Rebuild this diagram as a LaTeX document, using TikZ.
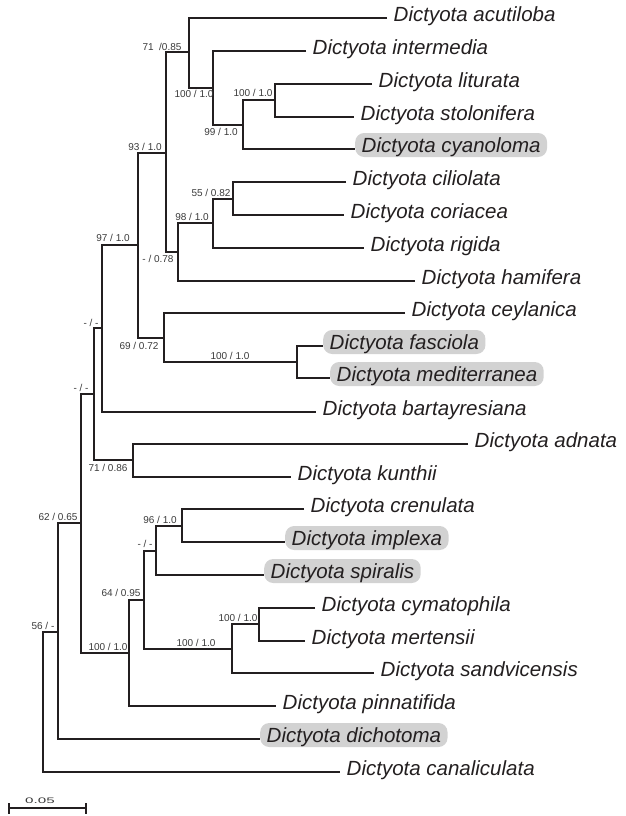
\documentclass[tikz,border=0pt]{standalone}
\usepackage{fontspec}
\setmainfont{Liberation Sans}
\definecolor{ink}{HTML}{231F20}
\definecolor{lab}{HTML}{3A3A3A}
\definecolor{hl}{HTML}{D2D2D2}
\begin{document}
\begin{tikzpicture}[x=1pt,y=-1pt,
  tree/.style={draw=ink, line width=1.4pt},
  sp/.style={anchor=west, inner xsep=6.5pt, inner ysep=4.5pt, text height=15pt, text depth=0pt,
             font=\fontsize{20.5}{24}\selectfont\itshape, text=ink},
  hi/.style={sp, fill=hl, rounded corners=9pt},
  bsup/.style={font=\fontsize{10}{11}\selectfont, text=lab, inner sep=0pt, text height=7pt, text depth=0pt},
]
\useasboundingbox (0,0) rectangle (625,816);

% ---------- leaves (node centre 4px above the branch line) ----------
\node[sp] (acu) at (387,14)  {Dictyota acutiloba};
\node[sp] (int) at (306,47)  {Dictyota intermedia};
\node[sp] (lit) at (372,80)  {Dictyota liturata};
\node[sp] (sto) at (354,113) {Dictyota stolonifera};
\node[hi] (cya) at (355,145) {Dictyota cyanoloma};
\node[sp] (cil) at (346,178) {Dictyota ciliolata};
\node[sp] (cor) at (344,211) {Dictyota coriacea};
\node[sp] (rig) at (364,244) {Dictyota rigida};
\node[sp] (ham) at (415,277) {Dictyota hamifera};
\node[sp] (cey) at (405,309) {Dictyota ceylanica};
\node[hi] (fas) at (323,342) {Dictyota fasciola};
\node[hi] (med) at (330,374) {Dictyota mediterranea};
\node[sp] (bar) at (316,408) {Dictyota bartayresiana};
\node[sp] (adn) at (468,440) {Dictyota adnata};
\node[sp] (kun) at (291,473) {Dictyota kunthii};
\node[sp] (cre) at (304,505) {Dictyota crenulata};
\node[hi] (imp) at (285,538) {Dictyota implexa};
\node[hi] (spi) at (264,571) {Dictyota spiralis};
\node[sp] (cym) at (315,604) {Dictyota cymatophila};
\node[sp] (mer) at (305,637) {Dictyota mertensii};
\node[sp] (san) at (374,669) {Dictyota sandvicensis};
\node[sp] (pin) at (276,702) {Dictyota pinnatifida};
\node[hi] (dic) at (260,735) {Dictyota dichotoma};
\node[sp] (can) at (340,768) {Dictyota canaliculata};

% ---------- internal nodes (vertical x, branch y) ----------
\coordinate (n1)  at (275,100);
\coordinate (n2)  at (243,125);
\coordinate (n3)  at (213,88);
\coordinate (n4)  at (189,52);
\coordinate (n5)  at (233,199);
\coordinate (n6)  at (213,223);
\coordinate (n7)  at (178,252);
\coordinate (n8)  at (166,153);
\coordinate (n9)  at (297,362);
\coordinate (n10) at (164,338);
\coordinate (n11) at (138,245);
\coordinate (n12) at (102,328);
\coordinate (n13) at (133,460);
\coordinate (n14) at (94,394);
\coordinate (n15) at (182,526);
\coordinate (n16) at (156,551);
\coordinate (n17) at (259,624);
\coordinate (n18) at (232,649);
\coordinate (n19) at (144,600);
\coordinate (n20) at (129,653);
\coordinate (n21) at (81,523);
\coordinate (n22) at (58,632);
\coordinate (root) at (43,700);

% ---------- branches ----------
\draw[tree] ([yshift=-4pt]lit.west) -| (n1) |- ([yshift=-4pt]sto.west);
\draw[tree] (n1) -| (n2) |- ([yshift=-4pt]cya.west);
\draw[tree] ([yshift=-4pt]int.west) -| (n3) |- (n2);
\draw[tree] ([yshift=-4pt]acu.west) -| (n4) |- (n3);
\draw[tree] ([yshift=-4pt]cil.west) -| (n5) |- ([yshift=-4pt]cor.west);
\draw[tree] (n5) -| (n6) |- ([yshift=-4pt]rig.west);
\draw[tree] (n6) -| (n7) |- ([yshift=-4pt]ham.west);
\draw[tree] (n4) -| (n8) |- (n7);
\draw[tree] ([yshift=-4pt]fas.west) -| (n9) |- ([yshift=-4pt]med.west);
\draw[tree] ([yshift=-4pt]cey.west) -| (n10) |- (n9);
\draw[tree] (n8) -| (n11) |- (n10);
\draw[tree] (n11) -| (n12) |- ([yshift=-4pt]bar.west);
\draw[tree] ([yshift=-4pt]adn.west) -| (n13) |- ([yshift=-4pt]kun.west);
\draw[tree] (n12) -| (n14) |- (n13);
\draw[tree] ([yshift=-4pt]cre.west) -| (n15) |- ([yshift=-4pt]imp.west);
\draw[tree] (n15) -| (n16) |- ([yshift=-4pt]spi.west);
\draw[tree] ([yshift=-4pt]cym.west) -| (n17) |- ([yshift=-4pt]mer.west);
\draw[tree] (n17) -| (n18) |- ([yshift=-4pt]san.west);
\draw[tree] (n16) -| (n19) |- (n18);
\draw[tree] (n19) -| (n20) |- ([yshift=-4pt]pin.west);
\draw[tree] (n14) -| (n21) |- (n20);
\draw[tree] (n21) -| (n22) |- ([yshift=-4pt]dic.west);
\draw[tree] (n22) -| (root) |- ([yshift=-4pt]can.west);

% ---------- support values ----------
\node[bsup] (s4)  at (162,47)  {71 \ /0.85};
\node[bsup] (s3)  at (194,94)  {100 / 1.0};
\node[bsup] (s2)  at (221,132) {99 / 1.0};
\node[bsup] (s1)  at (253,93)  {100 / 1.0};
\node[bsup] (s5)  at (211,193) {55 / 0.82};
\node[bsup] (s6)  at (192,217) {98 / 1.0};
\node[bsup] (s7)  at (158,259) {- / 0.78};
\node[bsup] (s8)  at (145,147) {93 / 1.0};
\node[bsup] (s11) at (113,238) {97 / 1.0};
\node[bsup] (s10) at (139,346) {69 / 0.72};
\node[bsup] (s9)  at (230,356) {100 / 1.0};
\node[bsup] (s12) at (91,323)  {- / -};
\node[bsup] (s14) at (81,388)  {- / -};
\node[bsup] (s13) at (108,468) {71 / 0.86};
\node[bsup] (s21) at (58,517)  {62 / 0.65};
\node[bsup] (s15) at (160,520) {96 / 1.0};
\node[bsup] (s16) at (145,544) {- / -};
\node[bsup] (s19) at (121,593) {64 / 0.95};
\node[bsup] (s18) at (196,643) {100 / 1.0};
\node[bsup] (s17) at (238,618) {100 / 1.0};
\node[bsup] (s20) at (108,647) {100 / 1.0};
\node[bsup] (s22) at (43,626)  {56 / -};

% ---------- scale bar ----------
\coordinate (sbL) at (9,808);
\coordinate (sbR) at (86,808);
\draw[ink, line width=1.1pt] (sbL) -- (sbR);
\draw[ink, line width=1.1pt] ([yshift=5pt]sbL) -- ([yshift=-6pt]sbL);
\draw[ink, line width=1.1pt] ([yshift=5pt]sbR) -- ([yshift=-6pt]sbR);
\node[font=\fontsize{8}{9}\selectfont, text=lab, inner sep=0pt] (sbl) at (40,801) {\scalebox{1.9}[1]{0.05}};
\end{tikzpicture}
\end{document}
